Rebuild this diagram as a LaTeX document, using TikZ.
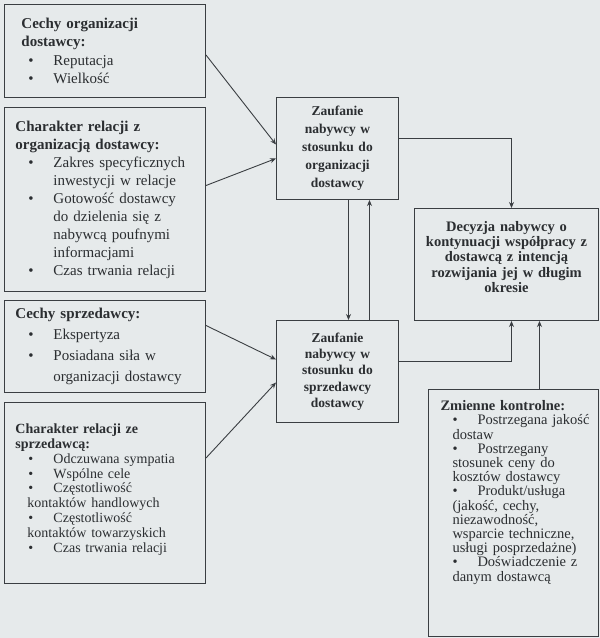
\documentclass[tikz,border=0pt]{standalone}
\usepackage{fontspec}
\setmainfont{Liberation Serif}
\usetikzlibrary{arrows.meta}
\definecolor{tlo}{HTML}{E6EAEB}
\definecolor{linia}{HTML}{3A3E42}
\definecolor{tekst}{HTML}{2B2E31}
% punktor listy
\newcommand{\pkt}{\hspace*{24pt}\makebox[25pt][l]{\textbullet}}
\begin{document}
\begin{tikzpicture}[x=1pt,y=-1pt,>={Stealth[length=6pt,width=5pt]},
ramka/.style={draw=linia, line width=1pt, anchor=north west, inner sep=0pt, align=left, text=tekst},
srodek/.style={ramka, align=center},
strz/.style={draw=linia, line width=0.9pt, ->}]
\fill[tlo] (0,0) rectangle (600,638);
% czynniki
\node[ramka, minimum width=201, minimum height=93, text width=201pt, font=\fontsize{15}{18.5}\selectfont] (orgcechy) at (4,4) {
\hspace*{17pt}\textbf{Cechy organizacji}\\
\hspace*{17pt}\textbf{dostawcy:}\\
\pkt Reputacja\\
\pkt Wielkość};
\node[ramka, minimum width=201, minimum height=184, text width=201pt, font=\fontsize{15}{18}\selectfont] (orgrelacja) at (4,107) {
\hspace*{11pt}\textbf{Charakter relacji z}\\
\hspace*{11pt}\textbf{organizacją dostawcy:}\\
\pkt Zakres specyficznych\\
\hspace*{49pt}inwestycji w relacje\\
\pkt Gotowość dostawcy\\
\hspace*{49pt}do dzielenia się z\\
\hspace*{49pt}nabywcą poufnymi\\
\hspace*{49pt}informacjami\\
\pkt Czas trwania relacji};
\node[ramka, minimum width=201, minimum height=92, text width=201pt, font=\fontsize{15}{21}\selectfont] (sprcechy) at (4,300) {
\hspace*{11pt}\textbf{Cechy sprzedawcy:}\\
\pkt Ekspertyza\\
\pkt Posiadana siła w\\
\hspace*{49pt}organizacji dostawcy};
\node[ramka, minimum width=201, minimum height=181, text width=201pt, font=\fontsize{14}{14.8}\selectfont] (sprrelacja) at (4,402) {
\hspace*{11pt}\textbf{Charakter relacji ze}\\
\hspace*{11pt}\textbf{sprzedawcą:}\\
\pkt Odczuwana sympatia\\
\pkt Wspólne cele\\
\pkt Częstotliwość\\
\hspace*{23pt}kontaktów handlowych\\
\pkt Częstotliwość\\
\hspace*{23pt}kontaktów towarzyskich\\
\pkt Czas trwania relacji\\[-5pt]\mbox{}};
% zaufanie
\node[srodek, minimum width=122, minimum height=102, text width=122pt, font=\bfseries\fontsize{13.5}{18}\selectfont] (zaufanieorg) at (276,97)
{Zaufanie\\ nabywcy w\\ stosunku do\\ organizacji\\ dostawcy};
\node[srodek, minimum width=122, minimum height=102, text width=122pt, font=\bfseries\fontsize{13.5}{16.3}\selectfont] (zaufaniespr) at (276,320)
{Zaufanie\\ nabywcy w\\ stosunku do\\ sprzedawcy\\ dostawcy};
% decyzja i zmienne kontrolne
\node[srodek, minimum width=184, minimum height=112, text width=184pt, font=\bfseries\fontsize{14.5}{15.3}\selectfont] (decyzja) at (414,208)
{Decyzja nabywcy o\\ kontynuacji współpracy z\\ dostawcą z intencją\\ rozwijania jej w długim\\ okresie\\[0pt]\mbox{}};
\node[ramka, minimum width=170, minimum height=247, text width=170pt, font=\fontsize{14.5}{14.2}\selectfont] (zmienne) at (428,389) {
\hspace*{12pt}\textbf{Zmienne kontrolne:}\\
\pkt Postrzegana jakość\\
\hspace*{24pt}dostaw\\
\pkt Postrzegany\\
\hspace*{24pt}stosunek ceny do\\
\hspace*{24pt}kosztów dostawcy\\
\pkt Produkt/usługa\\
\hspace*{24pt}(jakość, cechy,\\
\hspace*{24pt}niezawodność,\\
\hspace*{24pt}wsparcie techniczne,\\
\hspace*{24pt}usługi posprzedażne)\\
\pkt Doświadczenie z\\
\hspace*{24pt}danym dostawcą\\[30pt]\mbox{}};
% strzalki
\draw[strz] ([yshift=-4pt]orgcechy.east) -- ([yshift=4pt]zaufanieorg.west);
\draw[strz] ([yshift=14pt]orgrelacja.east) -- ([yshift=-10pt]zaufanieorg.west);
\draw[strz] ([yshift=21pt]sprcechy.east) -- ([yshift=12pt]zaufaniespr.west);
\draw[strz] ([yshift=35pt]sprrelacja.east) -- ([yshift=-11pt]zaufaniespr.west);
\draw[strz] ([xshift=11pt]zaufanieorg.south) -- ([xshift=11pt]zaufaniespr.north);
\draw[strz] ([xshift=32pt]zaufaniespr.north) -- ([xshift=32pt]zaufanieorg.south);
\draw[strz] ([yshift=10pt]zaufanieorg.east) -| ([xshift=5pt]decyzja.north);
\draw[strz] ([yshift=10pt]zaufaniespr.east) -| ([xshift=5pt]decyzja.south);
\draw[strz] ([xshift=26pt]zmienne.north) -- ([xshift=26pt]zmienne.north |- decyzja.south);
\end{tikzpicture}
\end{document}
